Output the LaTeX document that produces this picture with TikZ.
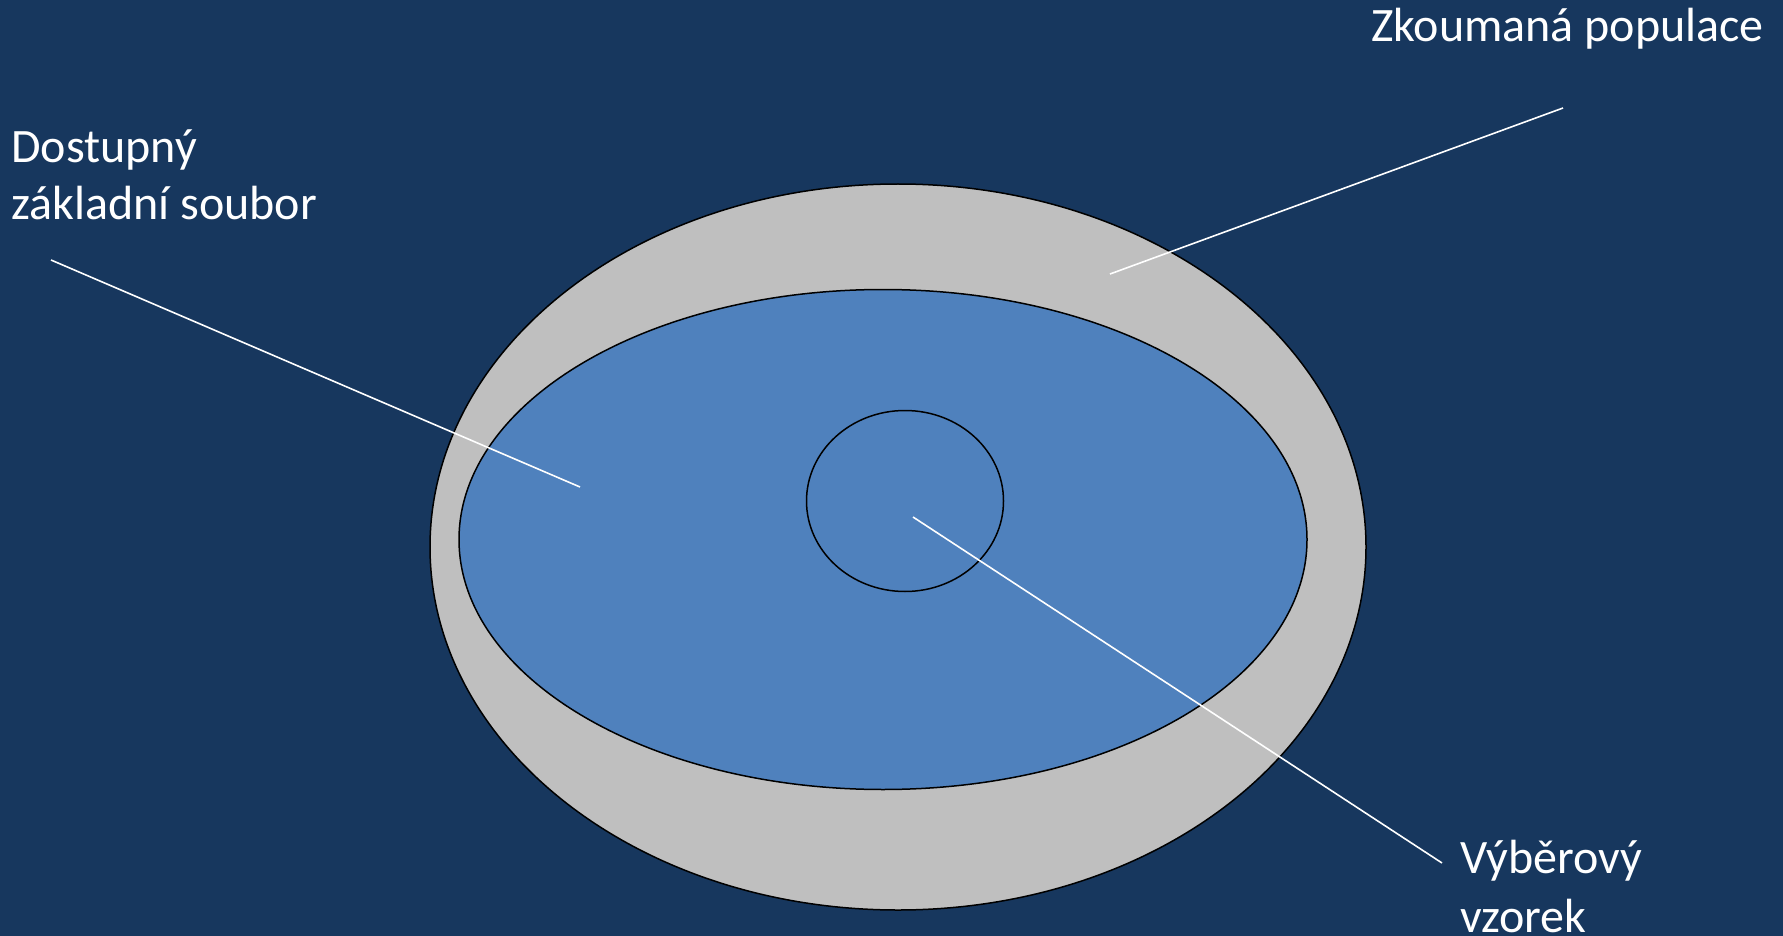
\documentclass[tikz,border=0pt]{standalone}
\usepackage{fontspec}
\setmainfont{Carlito}
\usetikzlibrary{shapes.geometric}
\definecolor{bg}{HTML}{17375E}
\definecolor{popgrey}{HTML}{BFBFBF}
\definecolor{accblue}{HTML}{4F81BD}
\tikzset{
  region/.style={shape=ellipse, draw=black, line width=1.5pt, inner sep=0pt},
  leader/.style={draw=white, line width=1.6pt},
  lbl/.style={text=white, inner sep=0pt, anchor=base west, font=\fontsize{48}{57}\selectfont}
}
\begin{document}
\begin{tikzpicture}[x=1pt,y=-1pt]
\fill[bg] (0,0) rectangle (1783,936);
\useasboundingbox (0,0) rectangle (1783,936);
\node[region, fill=popgrey, minimum width=936pt, minimum height=726pt] (pop) at (898,547) {};
\node[region, fill=accblue, minimum width=848pt, minimum height=500pt] (avail) at (883,539.5) {};
\node[region, fill=accblue, minimum width=197pt, minimum height=181pt] (sample) at (905,501) {};
\node[lbl] (popl) at (1371,42) {Zkoumaná populace};
\node[lbl] (avl1) at (11,163) {Dostupný};
\node[lbl] (avl2) at (11,220) {základní soubor};
\node[lbl] (sml1) at (1460,873) {Výběrový};
\node[lbl] (sml2) at (1460,932) {vzorek};
\coordinate (popA) at (1563,108);
\coordinate (popB) at (1110,274);
\coordinate (avA) at (51,260);
\coordinate (avB) at (580,487);
\coordinate (smA) at (913,517);
\coordinate (smB) at (1442,863);
\draw[leader] (popA) -- (popB);
\draw[leader] (avA) -- (avB);
\draw[leader] (smA) -- (smB);
\end{tikzpicture}
\end{document}
